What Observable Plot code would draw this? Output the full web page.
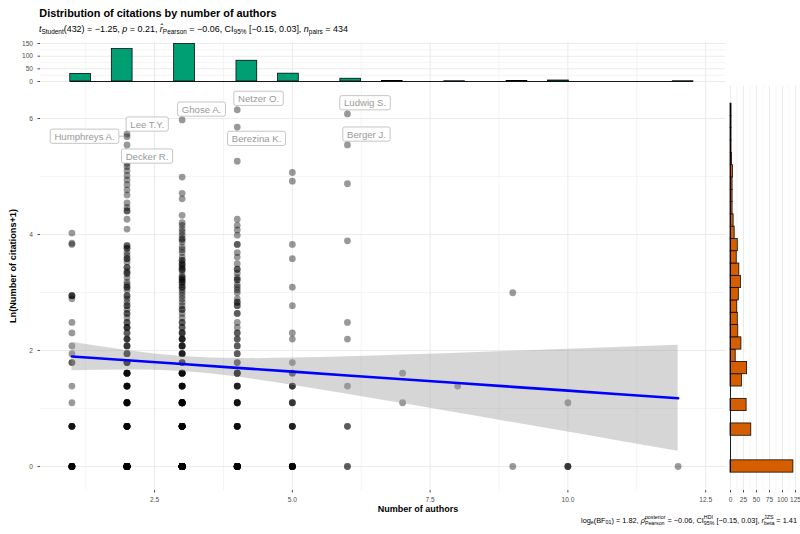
<!DOCTYPE html>
<html>
<head>
<meta charset="utf-8">
<script src="https://cdn.jsdelivr.net/npm/d3@7"></script>
<script src="https://cdn.jsdelivr.net/npm/@observablehq/plot@0.6"></script>
<style>
html, body { margin: 0; padding: 0; background: #fff; }
#wrap { position: relative; width: 800px; height: 534px; overflow: hidden; background: #fff;
  font-family: "Liberation Sans", Arial, Helvetica, sans-serif; color: #000; }
#wrap svg { position: absolute; overflow: visible; }
.txt { position: absolute; white-space: nowrap; line-height: 1; }
.txt sub { font-size: 0.72em; vertical-align: -0.28em; line-height: 0; }
.stk { display: inline-block; vertical-align: -0.35em; font-size: 0.72em; line-height: 1.05; }
.stk > span { display: block; }
.bm { display: inline-block; width: 0; height: 0; vertical-align: baseline; }
</style>
</head>
<body>
<div id="wrap"></div>
<script>
// ---------------- DATA ----------------
// number of authors (x categories)
const authorsList = [1, 2, 3, 4, 5, 6, 7, 8, 9, 10, 12];
// citations of papers for each number of authors, as [citations, number of papers]
const cites_1 = [[0,10],[1,5],[2,1],[3,1],[5,2],[6,1],[7,1],[9,1],[11,1],[17,1],[18,3],[45,1],[46,1],[55,1]];
const cites_2 = [[0,31],[1,9],[2,8],[3,6],[4,6],[5,4],[6,3],[7,3],[8,3],[9,2],[10,3],[11,2],[12,1],[13,2],[14,1],[15,2],[16,1],[17,1],[18,2],[20,1],[21,2],[22,1],[23,1],[25,1],[27,2],[28,1],[30,2],[33,1],[35,2],[37,1],[39,1],[42,2],[44,2],[59,1],[70,1],[81,2],[86,1],[93,1],[107,1],[117,1],[128,1],[139,1],[150,1],[163,1],[175,1],[185,1],[195,1],[255,1],[294,1],[308,1]];
const cites_3 = [[0,42],[1,14],[2,12],[3,6],[4,6],[5,3],[6,4],[7,4],[8,4],[9,3],[10,2],[11,2],[12,1],[13,1],[14,2],[15,1],[16,1],[17,1],[18,1],[19,1],[20,1],[21,2],[22,1],[23,2],[24,2],[25,2],[26,1],[28,1],[29,2],[30,1],[31,1],[32,2],[34,2],[36,1],[39,1],[41,1],[43,1],[47,1],[49,1],[50,1],[53,1],[56,1],[59,1],[63,1],[66,1],[75,1],[100,1],[110,1],[146,1],[393,1]];
const cites_4 = [[0,21],[1,6],[2,5],[3,4],[4,5],[5,2],[6,2],[7,2],[8,2],[9,2],[10,1],[11,1],[13,2],[15,2],[16,2],[17,1],[19,1],[20,1],[21,1],[22,1],[24,2],[25,1],[27,1],[29,2],[32,1],[36,1],[39,1],[45,2],[53,1],[58,1],[63,1],[70,1],[192,1],[347,1],[468,1]];
const cites_5 = [[0,10],[1,4],[2,3],[3,3],[4,2],[5,1],[8,1],[9,1],[15,1],[21,1],[35,1],[45,1],[136,1],[158,1]];
const cites_6 = [[0,2],[1,2],[3,1],[8,1],[11,1],[48,1],[130,1],[255,1],[436,1]];
const cites_7 = [[2,1],[4,1]];
const cites_8 = [[3,1]];
const cites_9 = [[0,1],[19,1]];
const cites_10 = [[0,3],[2,1]];
const cites_12 = [[0,1]];
const citesByAuthors = [cites_1, cites_2, cites_3, cites_4, cites_5, cites_6, cites_7, cites_8, cites_9, cites_10, cites_12];

// linear fit with 95% CI (Ln(citations+1) at 1..12 authors)
const fitAuthors = [1, 2, 3, 4, 5, 6, 7, 8, 9, 10, 11, 12];
const fitLn  = [1.897, 1.832, 1.766, 1.701, 1.635, 1.570, 1.504, 1.439, 1.373, 1.308, 1.242, 1.177];
const ciLow  = [1.651, 1.663, 1.637, 1.541, 1.401, 1.246, 1.085, 0.922, 0.758, 0.594, 0.428, 0.262];
const ciHigh = [2.143, 1.999, 1.895, 1.860, 1.869, 1.893, 1.923, 1.954, 1.988, 2.022, 2.056, 2.091];

// labelled papers
const labelNames = ["Humphreys A.", "Lee T.Y.", "Decker R.", "Ghose A.", "Netzer O.", "Berezina K.", "Ludwig S.", "Berger J."];
const labelAuthors = [2, 2, 2, 3, 4, 4, 6, 6];
const labelCitations = [294, 308, 255, 393, 468, 347, 436, 255];

// axis ticks
const xTicks = [2.5, 5, 7.5, 10, 12.5];
const yTicks = [0, 2, 4, 6];
const topCountTicks = [0, 50, 100, 150];
const rightCountTicks = [0, 25, 50, 75, 100, 125];

// ---------------- LAYOUT (not data) ----------------
const labelNudge = [[-42.5, 0], [20.2, -9.5], [20, 11.6], [19.4, -10.4], [21.3, -11], [19.3, 11.7], [17.6, -10.7], [19, -10.4]];
const gridColor = "#ebebeb";
const font = "Liberation Sans, Arial, Helvetica, sans-serif";
const xDomain = [0.43, 12.86];
const yDomain = [-0.414, 6.552];

// ---------------- BUILD ----------------
const wrap = document.getElementById("wrap");
const papers = [];
authorsList.forEach((a, i) => citesByAuthors[i].forEach(([c, n]) => {
  for (let k = 0; k < n; ++k) papers.push({authors: a, citations: c, lnc: Math.log(c + 1)});
}));
const fit = fitAuthors.map((a, i) => ({authors: a, ln: fitLn[i], lo: ciLow[i], hi: ciHigh[i]}));
const labels = labelNames.map((name, i) => ({name, authors: labelAuthors[i], lnc: Math.log(labelCitations[i] + 1)}));

const xBinStart = 0.97, xBinWidth = 0.377;
const xThresholds = d3.range(31).map(k => xBinStart + k * xBinWidth);
const yBinWidth = d3.max(papers, d => d.lnc) / 29;
const yThresholds = d3.range(31).map(k => (k - 0.5) * yBinWidth);

const major = {stroke: gridColor, strokeWidth: 1.05};
const minor = {stroke: gridColor, strokeWidth: 0.55};
const xMinor = xTicks.map(t => t - 1.25);
const yMinor = [1, 3, 5];
const baseStyle = {fontFamily: font, fontSize: "6.6px", color: "#4d4d4d", background: "transparent", overflow: "visible"};

// main scatter panel
const main = Plot.plot({
  width: 725, height: 448,
  marginLeft: 40, marginRight: 0, marginTop: 0, marginBottom: 44,
  x: {domain: xDomain, ticks: xTicks, tickFormat: d3.format(".1f"), tickSize: 2.5, tickPadding: 4, label: null},
  y: {domain: yDomain, ticks: yTicks, tickFormat: d => String(d), tickSize: 2.5, tickPadding: 5, label: null},
  style: baseStyle,
  marks: [
    Plot.ruleX(xMinor, minor),
    Plot.ruleX(xTicks, major),
    Plot.ruleY(yMinor, minor),
    Plot.ruleY(yTicks, major),
    Plot.dot(papers, {x: "authors", y: "lnc", r: 3.4, fill: "#000", fillOpacity: 0.4}),
    Plot.areaY(fit, {x: "authors", y1: "lo", y2: "hi", fill: "#999999", fillOpacity: 0.4, curve: "natural"}),
    Plot.line(fit, {x: "authors", y: "ln", stroke: "#0000ff", strokeWidth: 2.6}),
    ...labels.map((l, i) => Plot.text([l], {
      x: "authors", y: "lnc", text: "name", dx: labelNudge[i][0], dy: labelNudge[i][1],
      fill: "#999", fontSize: 9.6, lineAnchor: "middle"
    }))
  ]
});
main.style.left = "0px"; main.style.top = "86px";
wrap.appendChild(main);

// top marginal histogram
const topHist = Plot.plot({
  width: 725, height: 86,
  marginLeft: 40, marginRight: 0, marginTop: 42, marginBottom: 0,
  x: {domain: xDomain, axis: null},
  y: {domain: [-19.7, 154], ticks: topCountTicks, tickFormat: d => String(d), tickSize: 2.5, tickPadding: 5, label: null},
  style: baseStyle,
  marks: [
    Plot.ruleY([25, 75, 125], minor),
    Plot.ruleY(topCountTicks, major),
    Plot.ruleX(xMinor, minor),
    Plot.ruleX(xTicks, major),
    Plot.rectY(papers, Plot.binX({y: "count"}, {x: "authors", thresholds: xThresholds, fill: "#009E73", stroke: "#000", strokeWidth: 0.75, inset: 0})),
    Plot.ruleY([0], {x1: xThresholds[0], x2: xThresholds[30], stroke: "#000", strokeWidth: 0.9})
  ]
});
topHist.style.left = "0px"; topHist.style.top = "0px";
wrap.appendChild(topHist);

// right marginal histogram
const rightHist = Plot.plot({
  width: 73, height: 448,
  marginLeft: 0, marginRight: 2, marginTop: 0, marginBottom: 44,
  x: {domain: [-5.77, 130.8], ticks: rightCountTicks, tickFormat: d => String(d), tickSize: 2.5, tickPadding: 4, label: null},
  y: {domain: yDomain, axis: null},
  style: baseStyle,
  marks: [
    Plot.ruleX([12.5, 37.5, 62.5, 87.5, 112.5], minor),
    Plot.ruleX(rightCountTicks, major),
    Plot.rectX(papers, Plot.binY({x: "count"}, {y: "lnc", thresholds: yThresholds, fill: "#D55E00", stroke: "#000", strokeWidth: 0.75, inset: 0})),
    Plot.ruleX([0], {y1: yThresholds[0], y2: yThresholds[30], stroke: "#000", strokeWidth: 0.9})
  ]
});
rightHist.style.left = "727px"; rightHist.style.top = "86px";
wrap.appendChild(rightHist);

// label boxes and connectors (ggrepel style)
(function decorateLabels() {
  const ns = "http://www.w3.org/2000/svg";
  const texts = Array.from(main.querySelectorAll("text")).filter(t => labelNames.includes(t.textContent));
  if (!texts.length) return;
  const sx = main.scale("x"), sy = main.scale("y");
  const sr = main.getBoundingClientRect();
  const firstGroup = texts[0].closest("g");
  const deco = document.createElementNS(ns, "g");
  firstGroup.parentNode.insertBefore(deco, firstGroup);
  const padX = 4.2, padY = 1.6;
  texts.forEach(t => {
    const i = labelNames.indexOf(t.textContent);
    const r = t.getBoundingClientRect();
    const x0 = r.left - sr.left - padX, x1 = r.right - sr.left + padX;
    const y0 = r.top - sr.top - padY, y1 = r.bottom - sr.top + padY;
    const px = sx.apply(labels[i].authors), py = sy.apply(labels[i].lnc);
    const cx = Math.max(x0, Math.min(px, x1)), cy = Math.max(y0, Math.min(py, y1));
    const ln = document.createElementNS(ns, "line");
    ln.setAttribute("x1", px); ln.setAttribute("y1", py);
    ln.setAttribute("x2", cx); ln.setAttribute("y2", cy);
    ln.setAttribute("stroke", "#999"); ln.setAttribute("stroke-width", 0.6);
    deco.appendChild(ln);
    const rc = document.createElementNS(ns, "rect");
    rc.setAttribute("x", x0); rc.setAttribute("y", y0);
    rc.setAttribute("width", x1 - x0); rc.setAttribute("height", y1 - y0);
    rc.setAttribute("rx", 2); rc.setAttribute("fill", "#fff");
    rc.setAttribute("stroke", "#a0a0a0"); rc.setAttribute("stroke-width", 0.6);
    deco.appendChild(rc);
  });
})();

// texts
function placeText(html, {size, weight = "normal", baseline, left, right, center, color = "#000"}) {
  const d = document.createElement("div");
  d.className = "txt";
  d.style.fontSize = size + "px";
  d.style.fontWeight = weight;
  d.style.color = color;
  d.innerHTML = html + '<span class="bm"></span>';
  d.style.left = "0px"; d.style.top = "0px";
  wrap.appendChild(d);
  const wr = wrap.getBoundingClientRect();
  const b = d.querySelector(".bm").getBoundingClientRect().top - wr.top;
  const w = d.getBoundingClientRect().width;
  d.style.top = (baseline - b) + "px";
  if (left != null) d.style.left = left + "px";
  else if (right != null) d.style.left = (right - w) + "px";
  else if (center != null) d.style.left = (center - w / 2) + "px";
  return d;
}

placeText("Distribution of citations by number of authors", {size: 10.9, weight: "bold", baseline: 17.3, left: 39.3});
placeText('<i>t</i><sub>Student</sub>(432) = −1.25, <i>p</i> = 0.21, <i>r\u0302</i><sub>Pearson</sub> = −0.06, CI<sub>95%</sub> [−0.15, 0.03], <i>n</i><sub>pairs</sub> = 434',
  {size: 8.95, baseline: 32.4, left: 39});
placeText("Number of authors", {size: 9, weight: "bold", baseline: 511.5, center: 418});
placeText('log<sub>e</sub>(BF<sub>01</sub>) = 1.82, <i>ρ\u0302</i><span class="stk"><span>posterior</span><span>Pearson</span></span> = −0.06, CI<span class="stk"><span>HDI</span><span>95%</span></span> [−0.15, 0.03], <i>r</i><span class="stk"><span>JZS</span><span>beta</span></span> = 1.41',
  {size: 7.35, baseline: 523, right: 797});

// rotated y title
const ov = d3.create("svg").attr("width", 800).attr("height", 534).style("left", "0px").style("top", "0px").style("pointer-events", "none");
ov.append("text")
  .attr("transform", "translate(16,266) rotate(-90)")
  .attr("text-anchor", "middle")
  .attr("font-family", font).attr("font-weight", "bold").attr("font-size", 9.2)
  .text("Ln(Number of citations+1)");
wrap.appendChild(ov.node());
</script>
</body>
</html>
